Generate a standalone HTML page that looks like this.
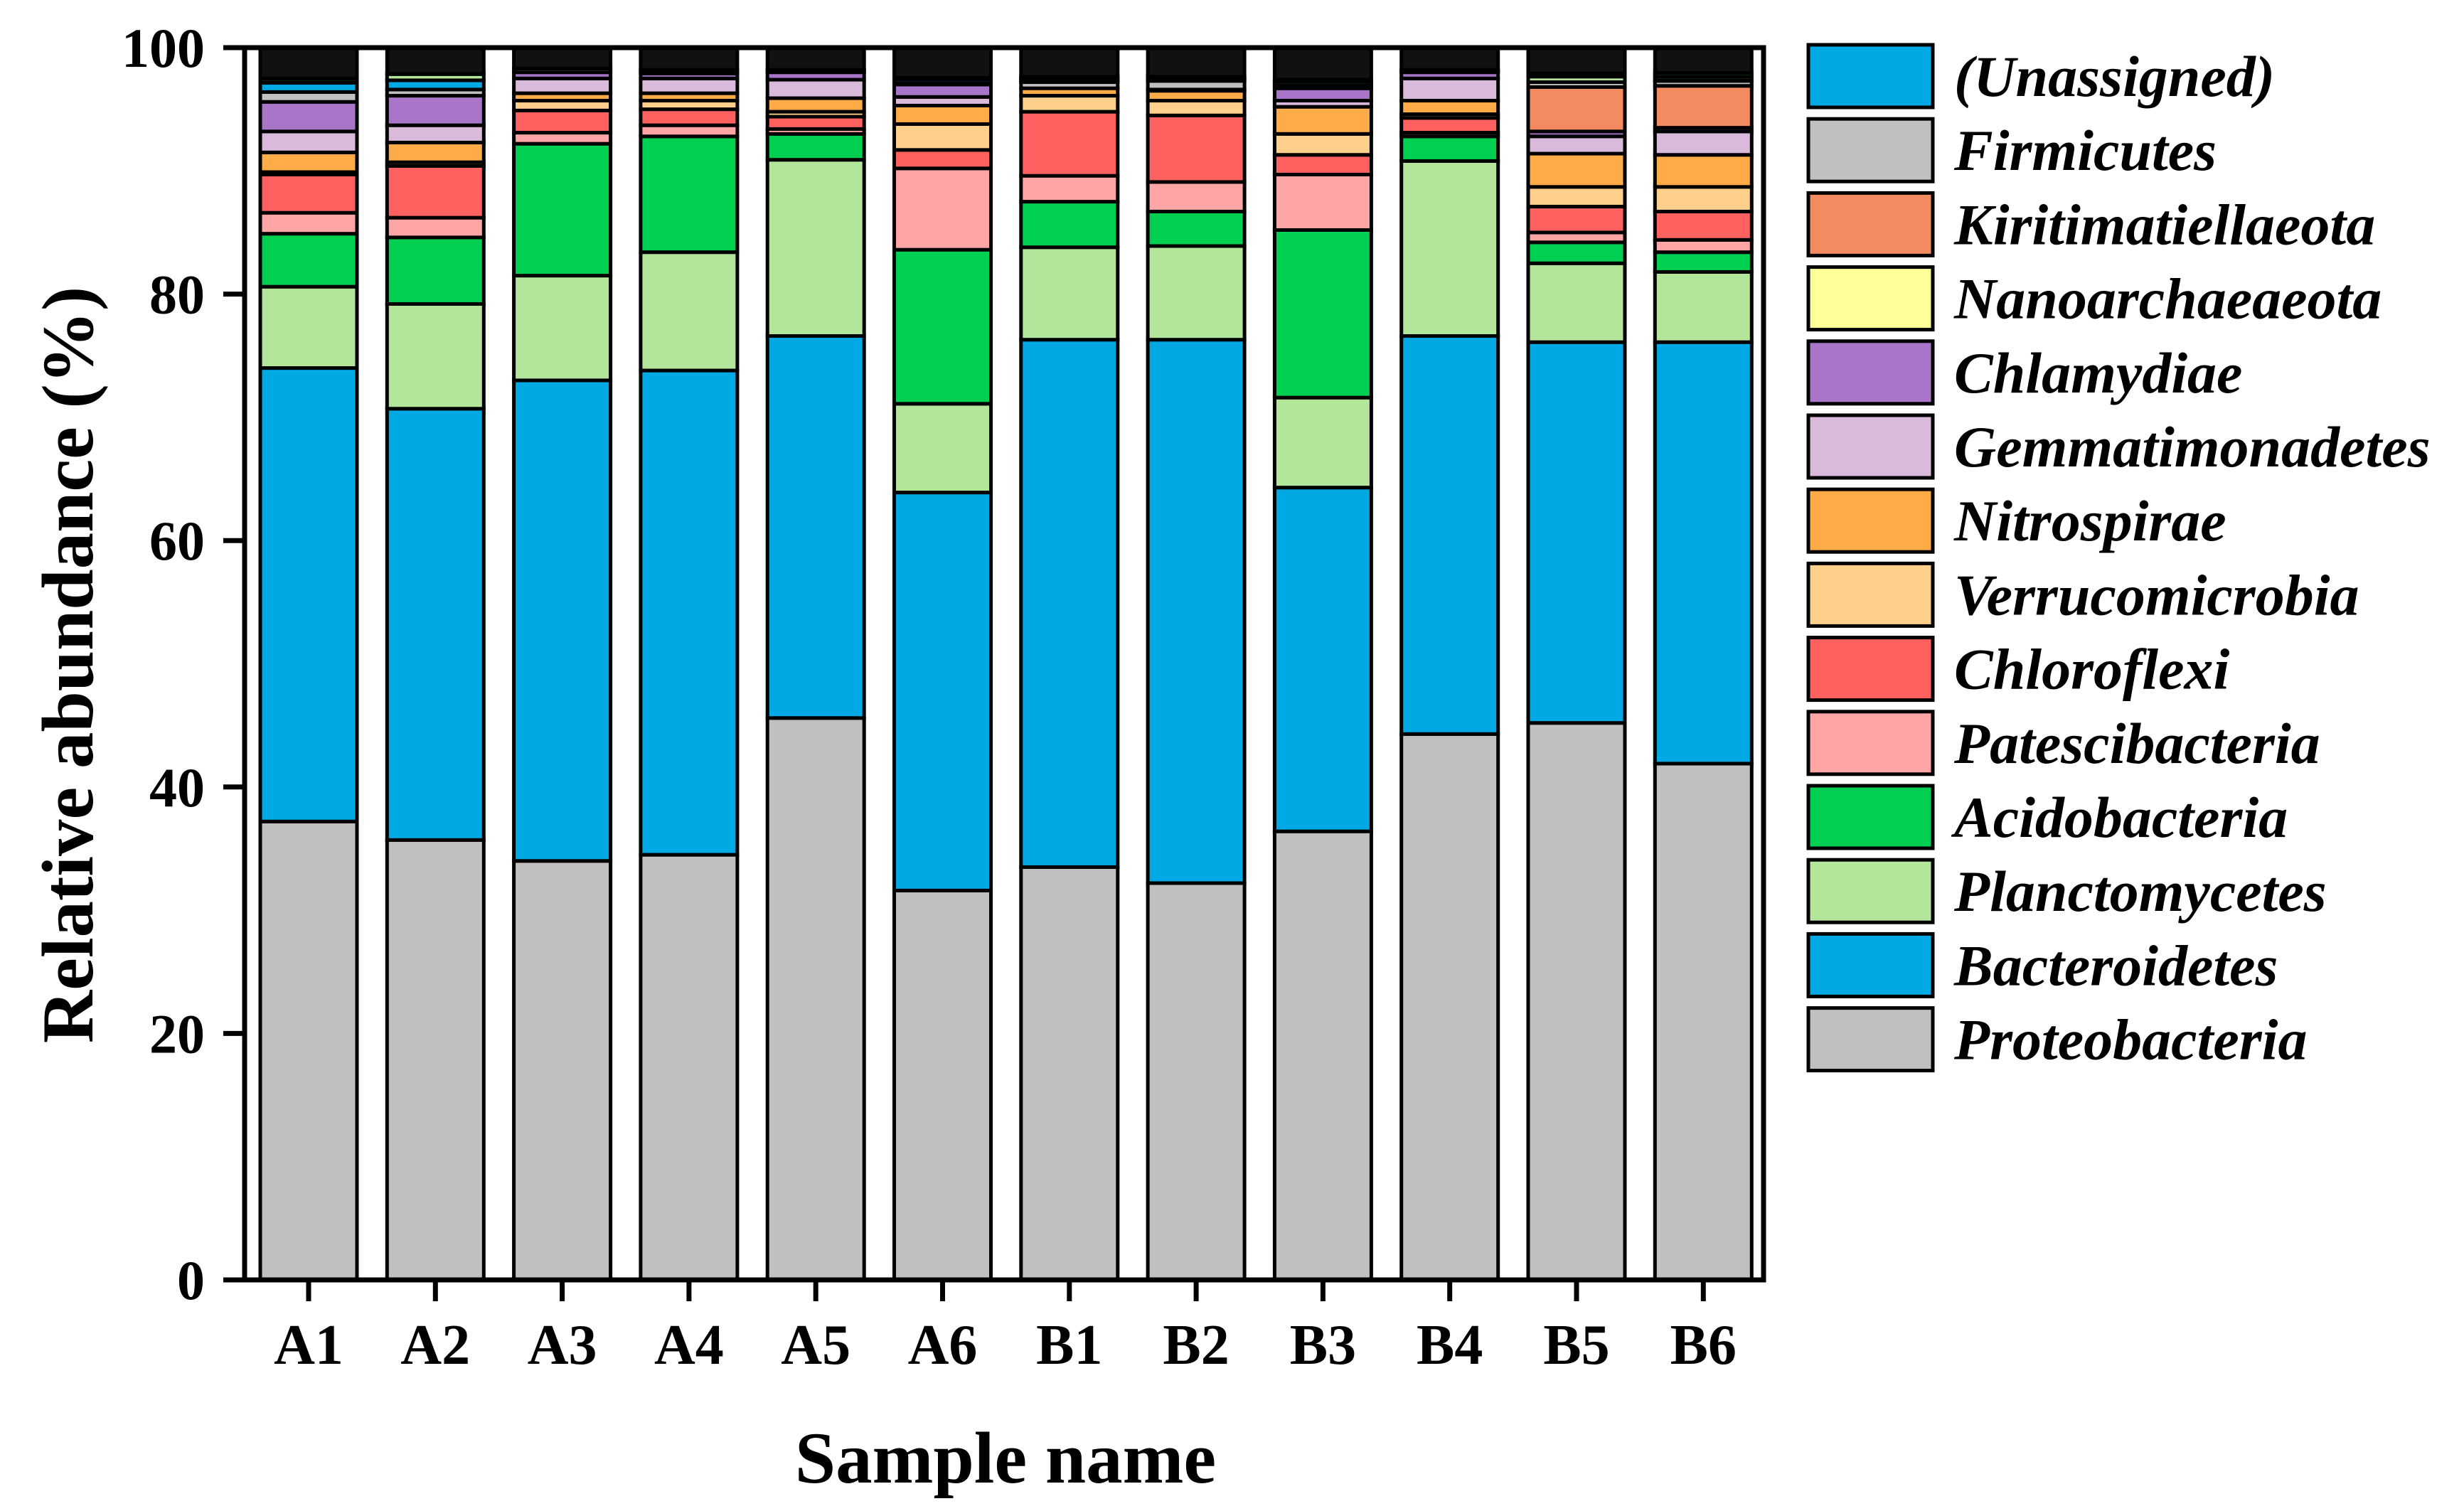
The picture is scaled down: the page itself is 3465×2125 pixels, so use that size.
<!DOCTYPE html>
<html><head><meta charset="utf-8">
<style>
html,body{margin:0;padding:0;background:#fff;}
svg{display:block;}
text{font-family:"Liberation Serif",serif;font-weight:bold;fill:#000;}
</style></head>
<body>
<svg id="chart" width="3465" height="2125" viewBox="0 0 3465 2125" xmlns="http://www.w3.org/2000/svg">
<g id="bars"></g>
<g id="axes"></g>
<g id="legend"></g>
<text x="0" y="0" font-size="103" text-anchor="middle" transform="translate(130,935) rotate(-90)">Relative abundance (%)</text>
<text x="1414" y="2085" font-size="103" text-anchor="middle">Sample name</text>
</svg>
<script>
const categories = ["A1","A2","A3","A4","A5","A6","B1","B2","B3","B4","B5","B6"];
const proteobacteria   = [37.2,35.7,34.0,34.5,45.6,31.6,33.5,32.2,36.4,44.3,45.2,41.9];
const bacteroidetes    = [36.8,35.0,39.0,39.3,31.0,32.3,42.8,44.1,27.9,32.3,30.9,34.2];
const planctomycetes   = [6.6,8.5,8.5,9.6,14.3,7.2,7.5,7.6,7.3,14.2,6.4,5.7];
const acidobacteria    = [4.3,5.4,10.7,9.4,2.1,12.5,3.7,2.8,13.6,2.0,1.7,1.6];
const patescibacteria  = [1.7,1.6,0.9,0.9,0.4,6.6,2.1,2.4,4.5,0.3,0.8,1.0];
const chloroflexi      = [3.1,4.2,1.8,1.3,1.0,1.5,5.2,5.4,1.6,1.2,2.1,2.3];
const verrucomicrobia  = [0.2,0.3,0.8,0.7,0.4,2.1,1.3,1.2,1.7,0.3,1.6,2.0];
const nitrospirae      = [1.6,1.6,0.6,0.6,1.1,1.5,0.6,0.8,2.2,1.1,2.7,2.6];
const gemmatimonadetes = [1.7,1.4,1.2,1.2,1.5,0.7,0.0,0.0,0.5,1.8,1.4,1.9];
const chlamydiae       = [2.4,2.4,0.5,0.4,0.6,1.0,0.0,0.1,1.0,0.5,0.4,0.3];
const nanoarchaeaeota  = [0,0,0,0,0,0,0,0,0,0,0,0];
const kiritimatiellaeota = [0,0,0,0,0,0,0,0,0,0,3.6,3.4];
const firmicutes       = [0.8,0.5,0.3,0.25,0.2,0.1,0.5,0.7,0.25,0.1,0.4,0.4];
const unassigned       = [0.75,0.75,0,0.05,0,0.3,0.05,0.1,0.3,0,0,0.05];
const minorLightGreen  = [0.3,0.5,0,0,0,0,0.15,0.15,0,0.1,0.45,0.3];
const minorGreen       = [0,0,0,0,0,0,0.1,0.1,0,0,0.25,0.3];
const minorRed         = [0.05,0,0,0,0,0.15,0.15,0,0.15,0,0,0];
const yTicks = [0,20,40,60,80,100];

const seriesNames = ["Proteobacteria","Bacteroidetes","Planctomycetes","Acidobacteria","Patescibacteria","Chloroflexi","Verrucomicrobia","Nitrospirae","Gemmatimonadetes","Chlamydiae","Nanoarchaeaeota","Kiritimatiellaeota","Firmicutes","(Unassigned)"];
const seriesData = [proteobacteria,bacteroidetes,planctomycetes,acidobacteria,patescibacteria,chloroflexi,verrucomicrobia,nitrospirae,gemmatimonadetes,chlamydiae,nanoarchaeaeota,kiritimatiellaeota,firmicutes,unassigned];
const seriesColors = ["#C0C0C0","#00A8E4","#B3E59B","#00D052","#FFA5A5","#FF6060","#FFD08C","#FFAB48","#D9BADB","#A875C9","#FFFF99","#F28C60","#C0C0C0","#00A8E4"];
const minorData = [minorLightGreen,minorGreen,minorRed];
const minorColors = ["#B3E59B","#00D052","#FF6060"];

const NS="http://www.w3.org/2000/svg";
const plotL=344, plotR=2480, yTop=67, yBot=1800;
const firstCenter=434, step=178.3, barW=136;
function yScale(v){return yBot-(yBot-yTop)*v/100;}
function xCenter(i){return firstCenter+step*i;}
function mk(tag,attrs,parent){const e=document.createElementNS(NS,tag);for(const k in attrs)e.setAttribute(k,attrs[k]);parent.appendChild(e);return e;}

const barsG=document.getElementById('bars');
categories.forEach((c,i)=>{
  const g=mk('g',{},barsG);
  
  
  let cum=0;
  const segs=[];
  seriesData.forEach((arr,s)=>segs.push([arr[i],seriesColors[s],seriesNames[s]]));
  minorData.forEach((arr,s)=>segs.push([arr[i],minorColors[s],'minor']));
  segs.forEach(([v,col,name])=>{
    if(v<=0)return;
    const r=mk('rect',{x:xCenter(i)-barW/2,y:yScale(cum+v),width:barW,height:yScale(cum)-yScale(cum+v),fill:col,stroke:'#000','stroke-width':5},g);
    
    
    cum+=v;
  });
  if(cum<100){
    const r=mk('rect',{x:xCenter(i)-barW/2,y:yScale(100),width:barW,height:yScale(cum)-yScale(100),fill:'#111',stroke:'#000','stroke-width':5},g);
    
    
  }
});

const ax=document.getElementById('axes');
const frame=mk('rect',{x:plotL,y:yTop,width:plotR-plotL,height:yBot-yTop,fill:'none',stroke:'#000','stroke-width':7},ax);


yTicks.forEach(t=>{
  const y=yScale(t);
  const l=mk('line',{x1:plotL-30,x2:plotL,y1:y,y2:y,stroke:'#000','stroke-width':7},ax);
  
  
  const tx=mk('text',{x:288,y:y+27,'font-size':78,'text-anchor':'end'},ax);
  tx.textContent=t;
  
  
});
categories.forEach((c,i)=>{
  const x=xCenter(i);
  const l=mk('line',{x1:x,x2:x,y1:yBot,y2:yBot+30,stroke:'#000','stroke-width':7},ax);
  
  
  const tx=mk('text',{x:x,y:1918,'font-size':80,'text-anchor':'middle'},ax);
  tx.textContent=c;
  
  
});

const lg=document.getElementById('legend');
for(let k=0;k<14;k++){
  const s=13-k;
  const y=63+k*104.2;
  const g=mk('g',{},lg);
  
  
  mk('rect',{x:2543,y:y,width:175,height:88,fill:seriesColors[s],stroke:'#000','stroke-width':5},g);
  const t=mk('text',{x:2748,y:y+72,'font-size':82,'font-style':'italic'},g);
  t.textContent=seriesNames[s];
}
</script>
</body></html>
